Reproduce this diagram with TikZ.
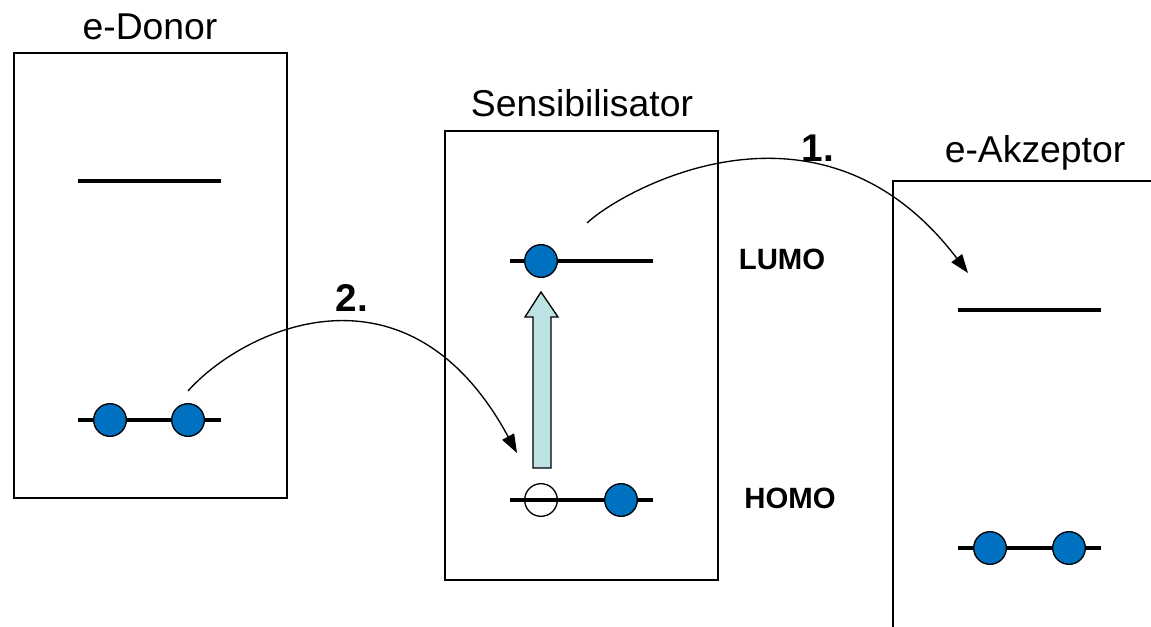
\documentclass[tikz,border=0pt]{standalone}
\usepackage{fontspec}
\setmainfont{Liberation Sans}
\usetikzlibrary{arrows.meta}
\definecolor{eblue}{RGB}{0,112,192}
\definecolor{excite}{RGB}{188,226,228}
\tikzset{
  electron/.style={circle, draw, line width=1pt, fill=eblue, minimum size=24.5pt, inner sep=0pt},
  hole/.style={circle, draw, line width=1pt, minimum size=24.5pt, inner sep=0pt},
  level/.style={line width=3pt},
  box/.style={line width=1pt},
  hop/.style={line width=1pt, -{Triangle[length=14pt,width=10pt]}},
  title/.style={font=\fontsize{28}{34}\selectfont},
  tag/.style={font=\fontsize{22}{26}\selectfont\bfseries},
  step-no/.style={font=\fontsize{29}{34}\selectfont\bfseries}
}

\begin{document}
\begin{tikzpicture}[x=0.75pt, y=-0.75pt]
    \useasboundingbox (0,0) rectangle (1151,627);
    % boxes
    \draw[box] (14,53) rectangle (287,498);
    \draw[box] (445,131) rectangle (718,580);
    \draw[box] (1152,181) -- (893,181) -- (893,628);
    \node[title] (t-don) at (150,27) {e-Donor};
    \node[title] (t-sens) at (582,103) {Sensibilisator};
    \node[title] (t-akz) at (1035,153) {e-Akzeptor};
    % levels
    \foreach \lx/\ly in {78/181, 78/420, 510/261, 510/500, 958/310, 958/548}
        \draw[level] (\lx,\ly) -- ++(143,0);
    \node[tag] (l-lumo) at (782,259) {LUMO};
    \node[tag] (l-homo) at (790,498) {HOMO};
    % electrons
    \foreach[count=\i] \ex in {110,188} {
        \node[electron] (d-\i) at (\ex,420) {};
    }
    \foreach[count=\i] \ex in {990,1069} {
        \node[electron] (a-\i) at (\ex,548) {};
    }
    \node[electron] (s-l) at (541,261) {};
    \node[hole] (s-h) at (541,500) {};
    \node[electron] (s-e) at (621,500) {};
    % excitation
    \draw[line width=1pt, fill=excite] (533,468) -- (533,317) -- (525,317) -- (541,292)
        -- (558,317) -- (551,317) -- (551,468) -- cycle;
    % transfers
    \coordinate (h2-a) at (188,391);
    \coordinate (h2-b) at (517,453);
    \coordinate (h1-a) at (587,223);
    \coordinate (h1-b) at (968,273);
    \draw[hop] (h1-a) .. controls (622,190) and (820,78) .. (h1-b);
    \draw[hop] (h2-a) .. controls (242,330) and (407,250) .. (h2-b);
    \node[step-no] (n-1) at (818,148) {1.};
    \node[step-no] (n-2) at (352,298) {2.};
\end{tikzpicture}
\end{document}
